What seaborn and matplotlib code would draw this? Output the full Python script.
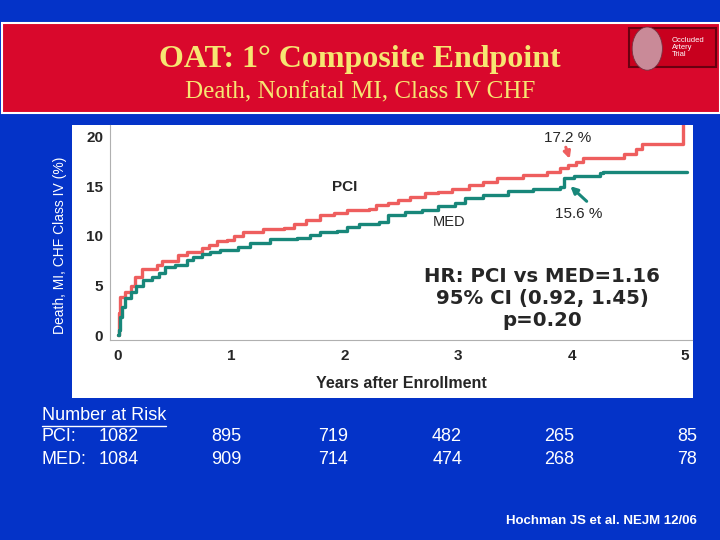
import numpy as np
import pandas as pd
import matplotlib
matplotlib.use('Agg')
import matplotlib.pyplot as plt
import seaborn as sns
from matplotlib.patches import Rectangle, Ellipse
from matplotlib.lines import Line2D

sns.set_style("white")
plt.rcParams['font.family'] = ['Liberation Sans', 'DejaVu Sans']

# cumulative event curves, step function
pci_years = [0.0, 0.005, 0.01, 0.02, 0.06, 0.11, 0.15, 0.21, 0.28, 0.34, 0.385, 0.47,
             0.53, 0.61, 0.68, 0.74, 0.80, 0.87, 0.96, 1.02, 1.10, 1.28, 1.46, 1.55,
             1.66, 1.78, 1.90, 2.02, 2.21, 2.27, 2.38, 2.47, 2.57, 2.71, 2.82, 2.94,
             3.09, 3.22, 3.34, 3.57, 3.78, 3.90, 3.97, 4.04, 4.10, 4.31, 4.46, 4.57,
             4.62, 4.985, 5.0]
pci_pct = [0.0, 0.5, 2.2, 3.9, 4.4, 5.0, 5.9, 6.7, 6.65, 7.05, 7.5, 7.5,
           8.05, 8.4, 8.4, 8.8, 9.1, 9.5, 9.55, 10.0, 10.4, 10.65, 10.85, 11.25,
           11.6, 12.1, 12.3, 12.6, 12.7, 13.1, 13.3, 13.6, 13.9, 14.3, 14.45, 14.7,
           15.1, 15.45, 15.8, 16.1, 16.45, 16.8, 17.1, 17.45, 17.8, 17.85, 18.3, 18.8,
           19.3, 21.5, 21.5]

med_years = [0.0, 0.01, 0.02, 0.03, 0.06, 0.11, 0.16, 0.22, 0.30, 0.36, 0.41, 0.50,
             0.61, 0.66, 0.74, 0.81, 0.90, 1.06, 1.16, 1.34, 1.58, 1.69, 1.78, 1.93,
             2.02, 2.12, 2.30, 2.38, 2.53, 2.68, 2.82, 2.97, 3.06, 3.22, 3.40, 3.44,
             3.66, 3.90, 3.93, 4.02, 4.25, 4.28, 5.02]
med_pct = [0.0, 0.5, 1.8, 2.85, 3.7, 4.4, 5.0, 5.55, 5.9, 6.3, 6.9, 7.05,
           7.55, 7.9, 8.15, 8.4, 8.55, 8.9, 9.25, 9.65, 9.75, 10.1, 10.4, 10.5,
           10.9, 11.2, 11.4, 12.1, 12.4, 12.65, 13.0, 13.3, 13.8, 14.1, 14.15, 14.55,
           14.7, 14.95, 15.8, 16.05, 16.3, 16.45, 16.45]

risk_labels = ['PCI:', 'MED:']
risk_pci = [1082, 895, 719, 482, 265, 85]
risk_med = [1084, 909, 714, 474, 268, 78]
risk_x = [0.137, 0.314, 0.463, 0.621, 0.777, 0.968]

BLUE = '#0433c8'
RED_HDR = '#d9082c'
PCI_COL = '#ee5e5e'
MED_COL = '#18877a'
YELLOW = '#f6e672'

df = pd.concat([
    pd.DataFrame({'years': pci_years, 'pct': pci_pct, 'arm': 'PCI'}),
    pd.DataFrame({'years': med_years, 'pct': med_pct, 'arm': 'MED'}),
])

fig = plt.figure(figsize=(7.2, 5.4), dpi=100)
fig.patch.set_facecolor(BLUE)

# header band
fig.add_artist(Rectangle((0.003, 0.790), 0.997, 0.167, transform=fig.transFigure,
                         facecolor=RED_HDR, edgecolor='white', linewidth=1.5, zorder=-2))
fig.text(0.50, 0.890, 'OAT: 1° Composite Endpoint', color=YELLOW, ha='center', va='center',
         fontsize=23, fontweight='bold', family=['Liberation Serif', 'DejaVu Serif'])
fig.text(0.50, 0.829, 'Death, Nonfatal MI, Class IV CHF', color=YELLOW, ha='center', va='center',
         fontsize=18, family=['Liberation Serif', 'DejaVu Serif'])

# trial logo
fig.add_artist(Rectangle((0.873, 0.876), 0.121, 0.072, transform=fig.transFigure,
                         facecolor='#c8001e', edgecolor='#6a0010', linewidth=1.5))
fig.add_artist(Ellipse((0.899, 0.910), 0.042, 0.080, transform=fig.transFigure,
                       facecolor='#c98a98', edgecolor='#7a3040', linewidth=0.6))
fig.text(0.933, 0.912, 'Occluded\nArtery\nTrial', color='white', ha='left', va='center',
         fontsize=5.5, linespacing=1.0)

# white plot panel (behind the axes)
fig.add_artist(Rectangle((0.100, 0.263), 0.863, 0.506, transform=fig.transFigure,
                         facecolor='white', edgecolor='none', zorder=-1))

ax = fig.add_axes([0.153, 0.370, 0.808, 0.399])
ax.set_facecolor('white')
sns.lineplot(data=df, x='years', y='pct', hue='arm', palette={'PCI': PCI_COL, 'MED': MED_COL},
             estimator=None, sort=False, drawstyle='steps-post', linewidth=2.4, legend=False, ax=ax)

ax.set_xlim(-0.07, 5.06)
ax.set_ylim(-0.5, 21.2)
ax.set_xticks([0, 1, 2, 3, 4, 5])
ax.set_xticks(np.arange(0, 5.01, 1 / 3), minor=True)
ax.set_yticks([0, 5, 10, 15, 20])
ax.set_yticks([2.5, 7.5, 12.5, 17.5], minor=True)
ax.tick_params(axis='x', which='major', length=0, pad=6, labelsize=11)
ax.tick_params(axis='x', which='minor', direction='in', length=3, color='#888888')
ax.tick_params(axis='y', which='major', direction='out', length=3, color='#888888', labelsize=11, pad=2)
ax.tick_params(axis='y', which='minor', direction='out', length=1.5, color='#aaaaaa')
for lab in ax.get_xticklabels() + ax.get_yticklabels():
    lab.set_fontweight('bold')
for side in ['top', 'right']:
    ax.spines[side].set_visible(False)
for side in ['left', 'bottom']:
    ax.spines[side].set_color('#b0b0b0')
    ax.spines[side].set_linewidth(0.8)
ax.set_xlabel('Years after Enrollment', fontsize=11.5, fontweight='bold')
ax.set_ylabel('')
ax.xaxis.set_label_coords(0.50, -0.165)

fig.text(0.083, 0.545, 'Death, MI, CHF Class IV (%)', color='white', rotation=90,
         ha='center', va='center', fontsize=10)

# curve labels and annotations
ax.text(2.0, 14.9, 'PCI', fontsize=11, fontweight='bold', ha='center', va='center')
ax.text(2.92, 11.4, 'MED', fontsize=10.5, ha='center', va='center')
ax.text(3.96, 19.9, '17.2 %', fontsize=11, ha='center', va='center')
ax.text(4.06, 12.2, '15.6 %', fontsize=11, ha='center', va='center')
ax.annotate('', xy=(3.99, 17.5), xytext=(3.94, 19.2),
            arrowprops=dict(arrowstyle='-|>', color=PCI_COL, lw=2.2, mutation_scale=10))
ax.annotate('', xy=(3.97, 15.2), xytext=(4.15, 13.3),
            arrowprops=dict(arrowstyle='-|>', color=MED_COL, lw=2.2, mutation_scale=10))
ax.text(3.74, 3.7, 'HR: PCI vs MED=1.16\n95% CI (0.92, 1.45)\np=0.20', fontsize=14.2,
        fontweight='bold', ha='center', va='center', linespacing=1.22,
        family=['DejaVu Sans'])

# number at risk table
fig.text(0.058, 0.231, 'Number at Risk', color='white', fontsize=13, ha='left', va='center')
fig.add_artist(Line2D([0.058, 0.231], [0.212, 0.212], transform=fig.transFigure,
                      color='white', linewidth=1))
for row_y, label, counts in [(0.191, risk_labels[0], risk_pci), (0.150, risk_labels[1], risk_med)]:
    fig.text(0.058, row_y, label, color='white', fontsize=13, ha='left', va='center')
    for i, (xp, n) in enumerate(zip(risk_x, counts)):
        ha = 'left' if i == 0 else ('right' if i == len(counts) - 1 else 'center')
        fig.text(xp, row_y, str(n), color='white', fontsize=13, ha=ha, va='center')

fig.text(0.968, 0.035, 'Hochman JS et al. NEJM 12/06', color='white', fontsize=9.5,
         fontweight='bold', ha='right', va='center')

fig.savefig('out.png', dpi=100, facecolor=fig.get_facecolor())
